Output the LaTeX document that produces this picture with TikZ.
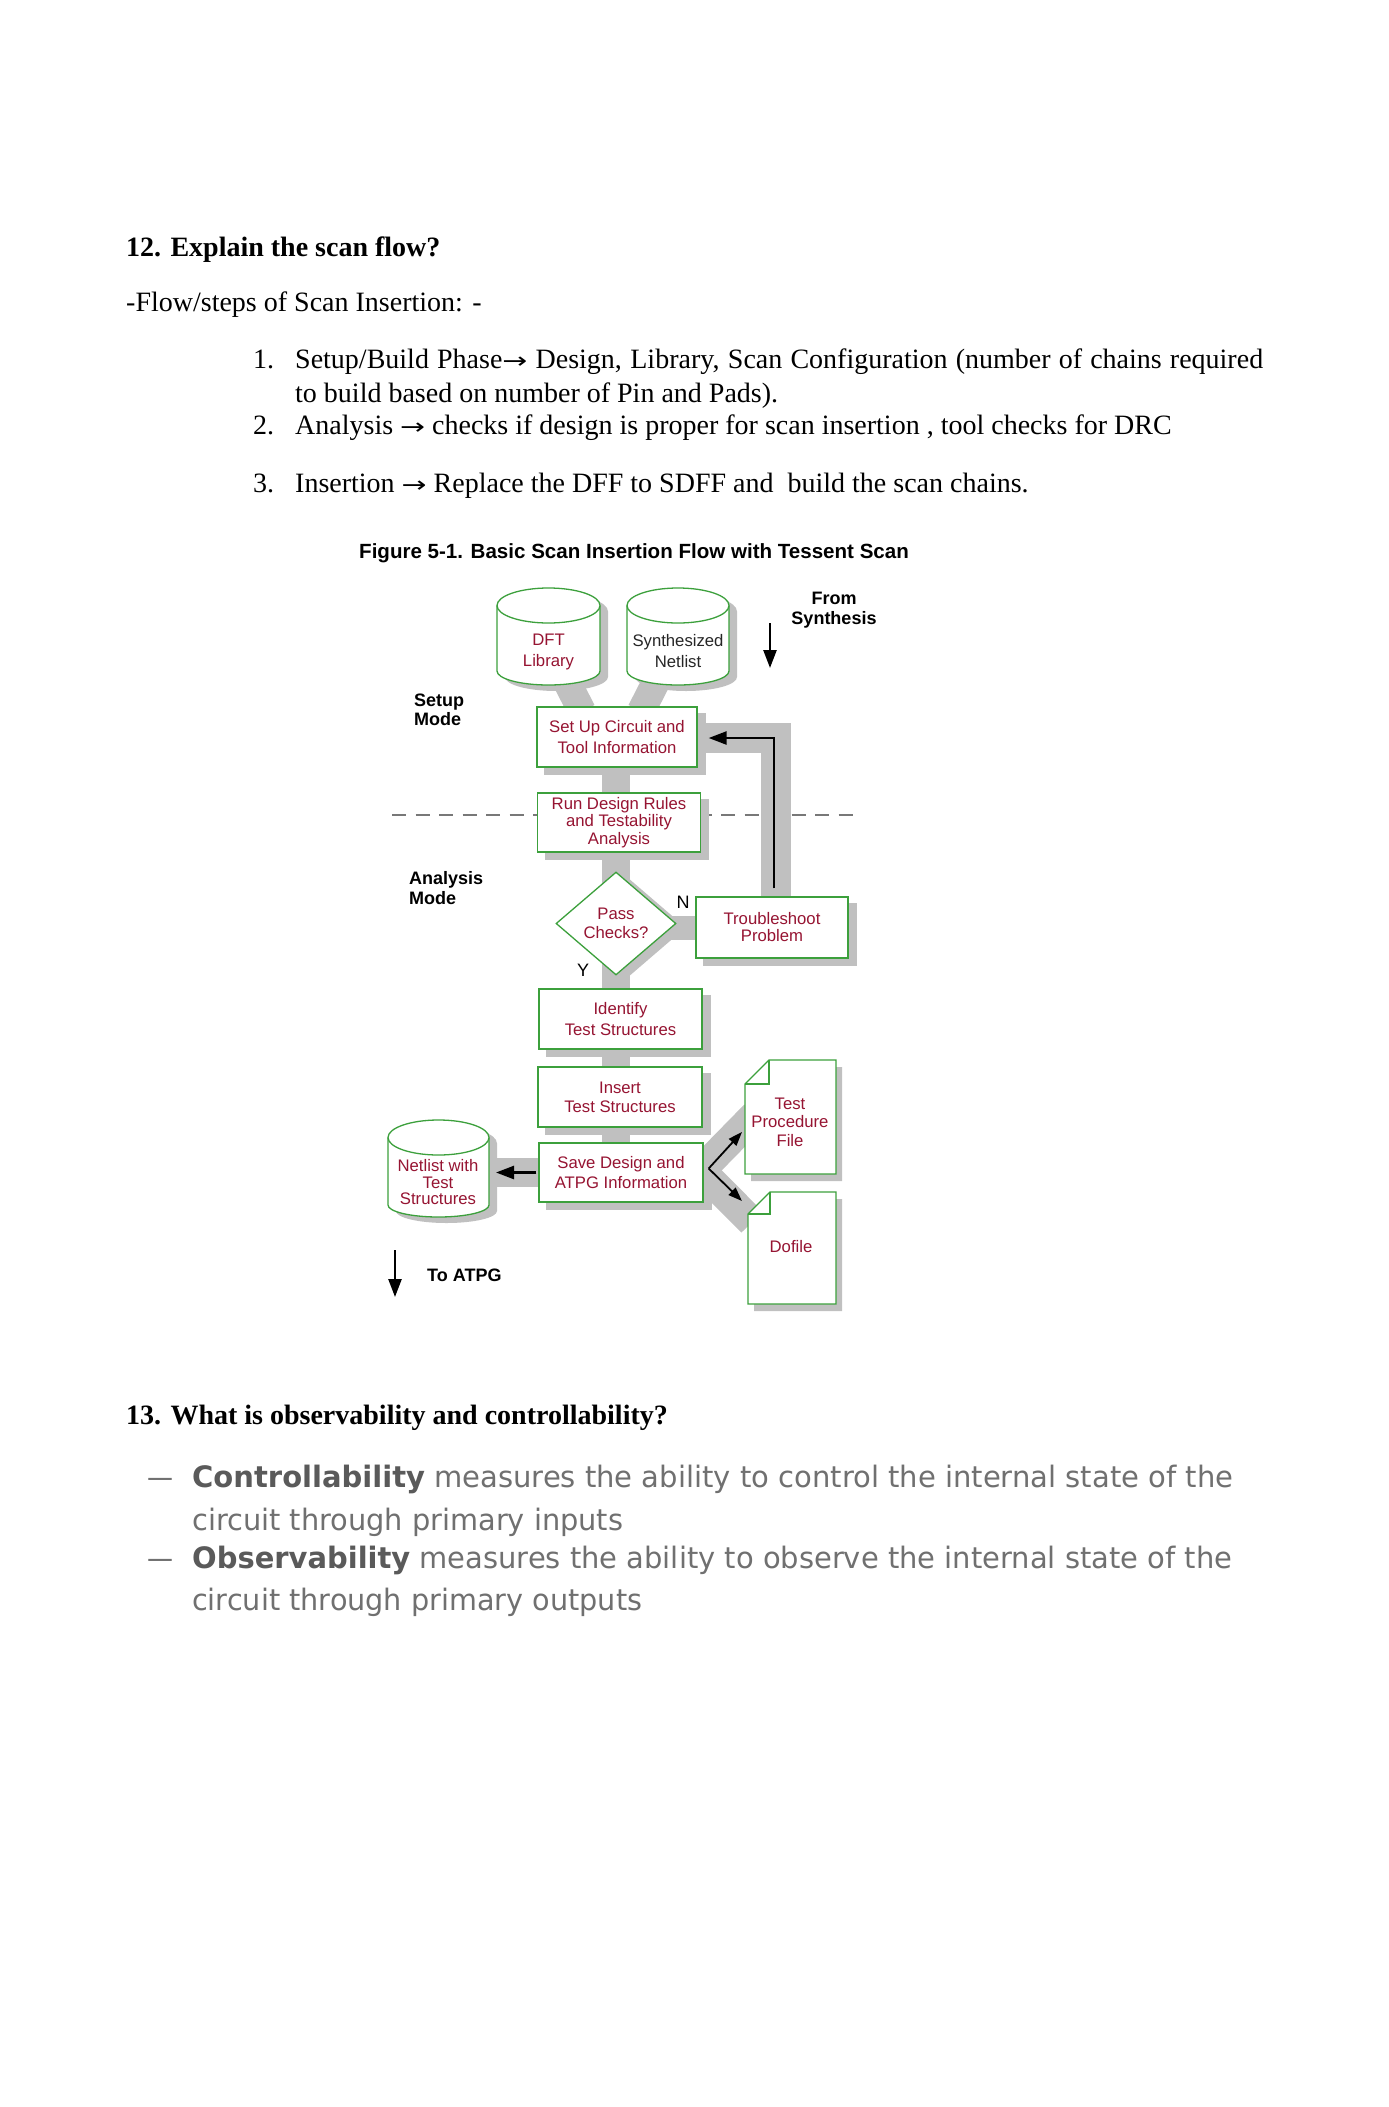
\documentclass[tikz,border=0pt]{standalone}
\usepackage{fontspec}
\usepackage{graphicx}
\setmainfont{Liberation Serif}
\newfontfamily\arialf{Liberation Sans}
\newfontfamily\tahf{DejaVu Sans}
\usetikzlibrary{arrows.meta,calc,backgrounds,shapes.geometric}
\definecolor{boxgreen}{RGB}{60,160,60}
\definecolor{txtred}{RGB}{150,20,50}
\definecolor{bandgray}{RGB}{192,192,192}
\definecolor{dashgray}{RGB}{120,120,120}
\definecolor{obsgray}{RGB}{112,112,112}
\definecolor{obsbold}{RGB}{90,90,90}

\newcommand{\myrarr}{\resizebox{25pt}{\height}{\tahf\fontsize{22}{22}\selectfont →}}

% cylinder: #1 name, #2 x radius, #3 top y radius, #4 bottom y radius
\newcommand{\mycyl}[4]{%
  \draw[greenln, fill=white] ($(#1.north west)+(0,#3)$) -- ($(#1.south west)+(0,-#4)$)
     arc[start angle=180, end angle=0, x radius=#2, y radius=#4] -- ($(#1.north east)+(0,#3)$);
  \draw[greenln, fill=white] ($(#1.north)+(0,#3)$) ellipse[x radius=#2, y radius=#3];}
\newcommand{\mycylsh}[4]{%
  \fill[bandgray] ($(#1.north west)+(8,#3+6)$) -- ($(#1.south west)+(8,-#4+6)$)
     arc[start angle=180, end angle=0, x radius=#2, y radius=#4] -- ($(#1.north east)+(8,#3+6)$)
     arc[start angle=0, end angle=-180, x radius=#2, y radius=#3] -- cycle;}
% document shape: #1 name, #2 corner size
\newcommand{\mydoc}[2]{%
  \draw[greenln, fill=white] ($(#1.north west)+(#2,0)$) -- (#1.north east) -- (#1.south east)
     -- (#1.south west) -- ($(#1.north west)+(0,#2)$) -- cycle;
  \draw[greenln] ($(#1.north west)+(0,#2)$) -- ($(#1.north west)+(#2,#2)$) -- ($(#1.north west)+(#2,0)$);}
\newcommand{\mydocsh}[2]{%
  \fill[bandgray] ($(#1.north west)+(#2+6,7)$) -- ($(#1.north east)+(6,7)$) -- ($(#1.south east)+(6,7)$)
     -- ($(#1.south west)+(6,7)$) -- ($(#1.north west)+(6,#2+7)$) -- cycle;}

\begin{document}
\begin{tikzpicture}[x=1pt, y=-1pt,
  prose/.style={anchor=base west, inner sep=0pt, font=\fontsize{28}{33}\selectfont},
  prosebf/.style={anchor=base west, inner sep=0pt, font=\fontsize{28}{33}\selectfont\bfseries},
  capst/.style={anchor=base west, inner sep=0pt, font=\arialf\bfseries\fontsize{20.55}{24}\selectfont},
  blabel/.style={inner sep=0pt, align=left, font=\arialf\bfseries\fontsize{18}{19.5}\selectfont},
  flowbox/.style={draw=boxgreen, line width=1.3pt, fill=white, inner sep=0pt, align=center,
     text=txtred, font=\arialf\fontsize{16.7}{20.5}\selectfont},
  ftext/.style={inner sep=0pt, align=center, text=txtred, font=\arialf\fontsize{16.7}{19}\selectfont},
  hid/.style={inner sep=0pt, outer sep=0pt},
  greenln/.style={draw=boxgreen, line width=1.3pt},
  bandln/.style={draw=bandgray, line width=#1, line join=miter, line cap=butt},
  arr/.style={draw=black, line width=2.5pt, -{Triangle[length=18pt,width=13pt]}},
  arrs/.style={draw=black, line width=1.8pt, -{Triangle[length=14pt,width=10pt]}},
  obs/.style={anchor=base west, inner sep=0pt, text=obsgray, font=\tahf\fontsize{29.5}{36}\selectfont},
]
\useasboundingbox (0,0) rectangle (1389,2107);
\begin{scope}[on background layer]
  \fill[white] (0,0) rectangle (1389,2107);
\end{scope}

% ---------- question 12 text ----------
\node[prosebf] (h12) at (126,256) {12. Explain the scan flow?};
\node[prose] (flow) at (126,311) {-Flow/steps of Scan Insertion: -};
\node[prose] (n1) at (253,368) {1.};
\node[prose] (t1) at (295,368) {\makebox[968pt][s]{Setup/Build Phase\myrarr{} Design, Library, Scan Configuration (number of chains required}};
\node[prose] (t1b) at (295,402) {to build based on number of Pin and Pads).};
\node[prose] (n2) at (253,434) {2.};
\node[prose] (t2) at (295,434) {Analysis \myrarr{} checks if design is proper for scan insertion , tool checks for DRC};
\node[prose] (n3) at (253,492) {3.};
\node[prose] (t3) at (295,492) {Insertion \myrarr{} Replace the DFF to SDFF and\ \ build the scan chains.};

\node[capst] (cap) at (359,558) {Figure 5-1. Basic Scan Insertion Flow with Tessent Scan};

% ---------- flow boxes ----------
\node[flowbox, minimum width=160pt, minimum height=60pt] (setup) at (617,737) {Set Up Circuit and\\Tool Information};
\node[flowbox, minimum width=163pt, minimum height=59pt, font=\arialf\fontsize{16.7}{17.5}\selectfont] (run) at (619,822.5) {Run Design Rules\\and Testability\\Analysis};
\node[diamond, draw=boxgreen, line width=1.3pt, fill=white, inner sep=0pt, minimum width=120pt, minimum height=103pt,
      align=center, text=txtred, font=\arialf\fontsize{16.7}{18.5}\selectfont] (pass) at (616,923.5) {Pass\\Checks?};
\node[flowbox, minimum width=152pt, minimum height=61pt, font=\arialf\fontsize{16.7}{17}\selectfont] (trouble) at (772,927.5) {Troubleshoot\\Problem};
\node[flowbox, minimum width=163pt, minimum height=60pt] (identify) at (620.5,1019) {Identify\\Test Structures};
\node[flowbox, minimum width=164pt, minimum height=60pt, font=\arialf\fontsize{16.7}{19}\selectfont] (insert) at (620,1097) {Insert\\Test Structures};
\node[flowbox, minimum width=164pt, minimum height=59pt, font=\arialf\fontsize{16.7}{20}\selectfont] (save) at (621,1172.5) {Save Design and\\ATPG Information};

% cylinders and documents (outline holders)
\node[hid, minimum width=103pt, minimum height=97pt] (dft) at (548.5,636.5) {};
\node[hid, minimum width=102pt, minimum height=97pt] (syn) at (678,636.5) {};
\node[hid, minimum width=101pt, minimum height=97pt] (ntcyl) at (438.5,1168.5) {};
\node[hid, minimum width=91pt, minimum height=114pt] (tpf) at (790.5,1117) {};
\node[hid, minimum width=88pt, minimum height=112pt] (dofile) at (792,1248) {};

\mycyl{dft}{51.5}{17.5}{14}
\mycyl{syn}{51}{17.5}{14}
\mycyl{ntcyl}{50.5}{17.5}{12}
\mydoc{tpf}{24}
\mydoc{dofile}{22}

\node[ftext, font=\arialf\fontsize{16.7}{21}\selectfont] (dftt) at (548.5,651.5) {DFT\\Library};
\node[ftext, text=black!85, font=\arialf\fontsize{16.7}{21}\selectfont] (synt) at (678,651.5) {Synthesized\\Netlist};
\node[ftext, font=\arialf\fontsize{16.7}{16.5}\selectfont] (ntt) at (438,1182.5) {Netlist with\\Test\\Structures};
\node[ftext, font=\arialf\fontsize{16.7}{18.5}\selectfont] (tpft) at (790,1122) {Test\\Procedure\\File};
\node[ftext] (dofilet) at (791,1247) {Dofile};

% ---------- background: dashed divider, bands, shadows ----------
\coordinate (dl) at (392,815);
\coordinate (dr) at (858,815);
\begin{scope}[on background layer]
  \draw[dashgray, line width=2pt, dash pattern=on 14pt off 9.5pt] (dl) -- (dr);
  % spine
  \draw[bandln=28pt] ($(setup.center)+(-1,0)$) -- ($(setup.center |- save.center)+(-1,0)$);
  % from libraries
  \draw[bandln=28pt] ($(dft.south)+(17.5,-5)$) -- ($(setup.north)+(-35,5)$);
  \draw[bandln=28pt] ($(syn.south)+(-21,-5)$) -- ($(setup.north)+(24,5)$);
  % feedback loop
  \draw[bandln=30pt] ($(setup.east)+(-5,1)$) -| ($(trouble.north)+(4,5)$);
  % N branch
  \draw[bandln=24pt] (pass.center |- trouble.west) -- (trouble.west);
  % output to netlist
  \draw[bandln=29pt] (save.center) -- (ntcyl.center |- save.center);
  % outputs to files
  \draw[bandln=30pt] ($(save.east)+(-5,0)$) -- ($(tpf.west)+(10,-2)$);
  \draw[bandln=30pt] ($(save.east)+(-5,-4)$) -- ($(dofile.north west)+(4,30)$);
  % shadows
  \foreach \n in {setup,run,trouble,identify,insert,save}
    {\fill[bandgray] ($(\n.south west)+(8,7)$) rectangle ($(\n.north east)+(8,7)$);}
  \fill[bandgray] ($(pass.north)+(9,4)$) -- ($(pass.east)+(9,4)$) -- ($(pass.south)+(9,4)$) -- ($(pass.west)+(9,4)$) -- cycle;
  \mycylsh{dft}{51.5}{17.5}{14}
  \mycylsh{syn}{51}{17.5}{14}
  \mycylsh{ntcyl}{50.5}{17.5}{12}
  \mydocsh{tpf}{24}
  \mydocsh{dofile}{22}
\end{scope}

% ---------- black arrows ----------
\draw[arr] ($(trouble.north)+(2,-8)$) |- ($(setup.east)+(11,1)$);
\draw[arr] ($(save.west)+(-2,0)$) -- ($(ntcyl.east |- save.west)+(7,0)$);
\coordinate (vj) at ($(save.east)+(5,-4)$);
\draw[arrs] (vj) -- ($(tpf.west)+(-3,15)$);
\draw[arrs] (vj) -- ($(dofile.north west)+(-6,9)$);

% ---------- labels ----------
\node[blabel, align=center] (fromsyn) at (834,610) {From\\Synthesis};
\coordinate (fs1) at (770,623);
\coordinate (fs2) at (770,668);
\draw[arr] (fs1) -- (fs2);
\node[blabel, anchor=west] (setupmode) at (414,710) {Setup\\Mode};
\node[blabel, anchor=west] (anmode) at (409,888) {Analysis\\Mode};
\node[inner sep=0pt, font=\arialf\fontsize{18}{18}\selectfont] (nlab) at (683,902) {N};
\node[inner sep=0pt, font=\arialf\fontsize{18}{18}\selectfont] (ylab) at (583,970) {Y};
\coordinate (ta1) at (395,1250);
\coordinate (ta2) at (395,1297);
\draw[arr] (ta1) -- (ta2);
\node[blabel, anchor=west] (toatpg) at (427,1275) {To ATPG};

% ---------- question 13 ----------
\node[prosebf] (h13) at (126,1424) {13. What is observability and controllability?};
\node[obs] (d1) at (147,1487) {\resizebox{26pt}{\height}{—}};
\node[obs] (o1) at (192,1487) {\resizebox{1041pt}{\height}{{\bfseries\color{obsbold}Controllability} measures the ability to control the internal state of the}};
\node[obs] (o2) at (192,1530.7) {\resizebox{431pt}{\height}{circuit through primary inputs}};
\node[obs] (d2) at (147,1568.3) {\resizebox{26pt}{\height}{—}};
\node[obs] (o3) at (192,1568.3) {\resizebox{1040pt}{\height}{{\bfseries\color{obsbold}Observability} measures the ability to observe the internal state of the}};
\node[obs] (o4) at (192,1610.7) {\resizebox{450pt}{\height}{circuit through primary outputs}};
\end{tikzpicture}
\end{document}
